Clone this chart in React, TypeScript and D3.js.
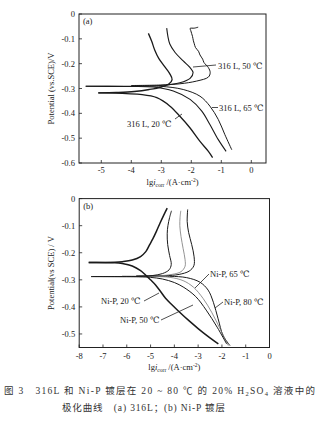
import React from "react";
import * as d3 from "d3";

type Pt = [number, number];

// ---------- Panel (a): 316L ----------
const aXTicks = [-5, -4, -3, -2, -1, 0];
const aYTicks = [0, -0.1, -0.2, -0.3, -0.4, -0.5, -0.6];

const a20Cathodic: Pt[] = [
  [-5.1, -0.318], [-4.3, -0.32], [-3.71, -0.324], [-3.15, -0.337], [-2.71, -0.371],
  [-2.38, -0.412], [-2.04, -0.459], [-1.71, -0.513], [-1.43, -0.553], [-1.29, -0.578],
];
const a20Anodic: Pt[] = [
  [-5.1, -0.318], [-4.5, -0.316], [-3.9, -0.312], [-3.4, -0.304], [-3.0, -0.294],
  [-2.75, -0.282], [-2.64, -0.264], [-2.72, -0.24], [-2.9, -0.21], [-3.08, -0.18],
  [-3.22, -0.145], [-3.32, -0.11], [-3.43, -0.078],
];
const a50Cathodic: Pt[] = [
  [-5.52, -0.291], [-4.2, -0.292], [-3.27, -0.294], [-2.6, -0.31], [-2.04, -0.344],
  [-1.65, -0.391], [-1.38, -0.445], [-1.1, -0.506], [-0.84, -0.553],
];
const a50Anodic: Pt[] = [
  [-5.52, -0.291], [-4.2, -0.291], [-3.27, -0.29], [-2.82, -0.286], [-2.38, -0.277],
  [-2.04, -0.259], [-1.94, -0.236], [-2.04, -0.216], [-2.27, -0.189], [-2.54, -0.155],
  [-2.72, -0.12], [-2.78, -0.09], [-2.82, -0.057],
];
const a65Cathodic: Pt[] = [
  [-4.0, -0.289], [-3.04, -0.291], [-2.27, -0.304], [-1.71, -0.331], [-1.38, -0.371],
  [-1.1, -0.425], [-0.88, -0.486], [-0.65, -0.547],
];
const a65Anodic: Pt[] = [
  [-4.0, -0.288], [-3.04, -0.286], [-2.38, -0.281], [-1.82, -0.27], [-1.43, -0.254],
  [-1.37, -0.236], [-1.43, -0.216], [-1.58, -0.195], [-1.62, -0.182], [-1.71, -0.165],
  [-1.76, -0.15], [-1.86, -0.135], [-1.9, -0.12], [-1.93, -0.108], [-1.96, -0.09],
  [-1.99, -0.078], [-2.02, -0.066], [-2.04, -0.058], [-1.9, -0.057], [-1.77, -0.053],
];

// ---------- Panel (b): Ni-P ----------
const bXTicks = [-8, -7, -6, -5, -4, -3, -2, -1, 0];
const bYTicks = [0, -0.1, -0.2, -0.3, -0.4, -0.5];

const b20Anodic: Pt[] = [
  [-7.6, -0.236], [-6.5, -0.235], [-6.19, -0.233], [-5.77, -0.227], [-5.42, -0.214],
  [-5.2, -0.196], [-5.05, -0.172], [-4.9, -0.148], [-4.75, -0.12], [-4.6, -0.09],
  [-4.45, -0.062], [-4.3, -0.035],
];
const b20Cathodic: Pt[] = [
  [-7.6, -0.236], [-6.5, -0.237], [-6.19, -0.24], [-5.77, -0.249], [-5.42, -0.266],
  [-5.21, -0.282], [-5.0, -0.3], [-4.79, -0.319], [-4.58, -0.343], [-4.37, -0.368],
  [-4.09, -0.393], [-3.81, -0.417], [-3.4, -0.45], [-3.0, -0.48], [-2.6, -0.508],
  [-2.15, -0.537],
];
const b50Anodic: Pt[] = [
  [-7.5, -0.288], [-6.0, -0.288], [-5.3, -0.287], [-4.9, -0.284], [-4.5, -0.277],
  [-4.22, -0.263], [-4.13, -0.243], [-4.2, -0.21], [-4.28, -0.17], [-4.3, -0.13],
  [-4.27, -0.1], [-4.2, -0.07], [-4.12, -0.045],
];
const b50Cathodic: Pt[] = [
  [-7.5, -0.288], [-5.5, -0.289], [-5.0, -0.291], [-4.5, -0.297], [-4.0, -0.31],
  [-3.6, -0.328], [-3.1, -0.362], [-2.66, -0.412], [-2.2, -0.475], [-1.8, -0.537],
];
const b65Anodic: Pt[] = [
  [-6.2, -0.287], [-5.0, -0.287], [-4.6, -0.285], [-4.1, -0.28], [-3.72, -0.27],
  [-3.55, -0.25], [-3.55, -0.225], [-3.63, -0.185], [-3.72, -0.14], [-3.77, -0.1],
  [-3.76, -0.07], [-3.73, -0.045],
];
const b65Cathodic: Pt[] = [
  [-6.2, -0.287], [-4.8, -0.288], [-4.18, -0.291], [-3.63, -0.303], [-3.2, -0.327],
  [-2.79, -0.369], [-2.43, -0.42], [-2.08, -0.481], [-1.73, -0.543],
];
const b80Anodic: Pt[] = [
  [-5.6, -0.286], [-4.4, -0.285], [-3.8, -0.28], [-3.38, -0.268], [-3.18, -0.248],
  [-3.17, -0.215], [-3.27, -0.17], [-3.4, -0.125], [-3.46, -0.085], [-3.44, -0.04],
];
const b80Cathodic: Pt[] = [
  [-5.6, -0.286], [-4.2, -0.287], [-3.48, -0.292], [-2.92, -0.309], [-2.58, -0.338],
  [-2.36, -0.383], [-2.16, -0.444], [-1.95, -0.506], [-1.66, -0.543],
];

const aLabels = ["316 L, 50 ℃", "316 L, 65 ℃", "316 L, 20 ℃"];
const bLabels = ["Ni-P, 20 ℃", "Ni-P, 50 ℃", "Ni-P, 65 ℃", "Ni-P, 80 ℃"];
const captionLine1 = "图 3　316L 和 Ni-P 镀层在 20 ~ 80 ℃ 的 20% H";
const captionLine2 = "极化曲线　(a) 316L；(b) Ni-P 镀层";

const SERIF = "'Liberation Serif', 'DejaVu Serif', serif";
const CAPFONT = "'Liberation Serif', 'Noto Sans CJK SC', serif";

function fmtY(v: number) {
  return v === 0 ? "0" : v.toFixed(1);
}

function XTitle({ x, y }: { x: number; y: number }) {
  return (
    <text x={x} y={y} fontFamily={SERIF} fontSize={8.5} textAnchor="middle" fill="#222">
      lg<tspan fontStyle="italic">i</tspan>
      <tspan fontSize={5.5} dy={2}>corr</tspan>
      <tspan dy={-2}> /(A·cm</tspan>
      <tspan fontSize={5.5} dy={-3}>-2</tspan>
      <tspan dy={3}>)</tspan>
    </text>
  );
}

function Panel({
  x0, x1, y0, y1, xDom, yDom, xTicks, yTicks, tag, curves, yTitle, titleY, tickLabelY,
}: {
  x0: number; x1: number; y0: number; y1: number;
  xDom: [number, number]; yDom: [number, number];
  xTicks: number[]; yTicks: number[]; tag: string;
  curves: { d: Pt[]; w: number; c: string }[];
  yTitle: string; titleY: number; tickLabelY: number;
}) {
  const xs = d3.scaleLinear().domain(xDom).range([x0, x1]);
  const ys = d3.scaleLinear().domain(yDom).range([y1, y0]);
  const line = d3
    .line<Pt>()
    .x((p) => xs(p[0]))
    .y((p) => ys(p[1]))
    .curve(d3.curveCatmullRom.alpha(0.5));
  const cy = (y0 + y1) / 2;
  return (
    <g>
      {curves.map((cv, i) => (
        <path key={i} d={line(cv.d) || ""} fill="none" stroke={cv.c} strokeWidth={cv.w} />
      ))}
      <rect x={x0} y={y0} width={x1 - x0} height={y1 - y0} fill="none" stroke="#222" strokeWidth={1} />
      {xTicks.map((t) => (
        <g key={"x" + t}>
          <line x1={xs(t)} x2={xs(t)} y1={y1} y2={y1 - 3} stroke="#222" strokeWidth={0.8} />
          <text x={xs(t)} y={tickLabelY} fontFamily={SERIF} fontSize={8.5} textAnchor="middle" dominantBaseline="central" fill="#222">
            {t}
          </text>
        </g>
      ))}
      {yTicks.map((t) => (
        <g key={"y" + t}>
          <line x1={x0} x2={x0 + 3} y1={ys(t)} y2={ys(t)} stroke="#222" strokeWidth={0.8} />
          <text x={x0 - 4} y={ys(t)} fontFamily={SERIF} fontSize={8.5} textAnchor="end" dominantBaseline="central" fill="#222">
            {fmtY(t)}
          </text>
        </g>
      ))}
      <text x={x0 + 4} y={y0 + 7} fontFamily={SERIF} fontSize={8.5} dominantBaseline="central" fill="#222">
        {tag}
      </text>
      <text
        transform={`translate(51,${cy}) rotate(-90)`}
        fontFamily={SERIF}
        fontSize={8.5}
        textAnchor="middle"
        dominantBaseline="central"
        fill="#222"
      >
        {yTitle}
      </text>
      <XTitle x={(x0 + x1) / 2} y={titleY} />
    </g>
  );
}

export default function App() {
  const lbl = (x: number, y: number, s: string) => (
    <text x={x} y={y} fontFamily={SERIF} fontSize={8.5} dominantBaseline="central" fill="#222">
      {s}
    </text>
  );
  const ld = (x1: number, y1: number, x2: number, y2: number) => (
    <line x1={x1} y1={y1} x2={x2} y2={y2} stroke="#222" strokeWidth={0.8} />
  );
  const K = "#1a1a1a";
  const G = "#777";
  return (
    <svg
      width={320}
      height={427}
      viewBox="0 0 320 427"
      style={{ position: "absolute", left: 0, top: 0, background: "#fff" }}
    >
      <rect width={320} height={427} fill="#fff" />
      <Panel
        x0={79} x1={266} y0={14} y1={163}
        xDom={[-5.743, 0.49]} yDom={[-0.6, 0]}
        xTicks={aXTicks} yTicks={aYTicks} tag="(a)"
        yTitle="Potential (vs.SCE)/V" titleY={185} tickLabelY={170}
        curves={[
          { d: a20Cathodic, w: 1.3, c: K },
          { d: a20Anodic, w: 1.3, c: K },
          { d: a50Cathodic, w: 1.1, c: K },
          { d: a50Anodic, w: 1.1, c: K },
          { d: a65Cathodic, w: 1.0, c: K },
          { d: a65Anodic, w: 1.0, c: K },
        ]}
      />
      {ld(193, 67, 216, 65)}
      {lbl(218, 65.5, aLabels[0])}
      {ld(212, 107.5, 218, 107.5)}
      {lbl(219, 107.5, aLabels[1])}
      {ld(175, 119, 182, 114)}
      {lbl(127, 124, aLabels[2])}

      <Panel
        x0={79.2} x1={269.5} y0={198.6} y1={347.5}
        xDom={[-8, 0]} yDom={[-0.55, 0]}
        xTicks={bXTicks} yTicks={bYTicks} tag="(b)"
        yTitle="Potential(vs SCE) / V" titleY={370} tickLabelY={356}
        curves={[
          { d: b80Cathodic, w: 1.0, c: K },
          { d: b80Anodic, w: 1.0, c: K },
          { d: b65Cathodic, w: 0.8, c: G },
          { d: b65Anodic, w: 0.8, c: G },
          { d: b50Cathodic, w: 1.0, c: K },
          { d: b50Anodic, w: 1.0, c: K },
          { d: b20Cathodic, w: 1.5, c: K },
          { d: b20Anodic, w: 1.5, c: K },
        ]}
      />
      {ld(144, 301, 159, 293)}
      {lbl(101, 301, bLabels[0])}
      {ld(161, 320, 193, 305)}
      {lbl(120, 320, bLabels[1])}
      {ld(209, 274, 195, 288)}
      {lbl(210, 274, bLabels[2])}
      {ld(223, 302, 215, 308)}
      {lbl(224, 302, bLabels[3])}

      <text x={4} y={391} fontFamily={CAPFONT} fontSize={9.5} dominantBaseline="central" fill="#333" textLength={311} lengthAdjust="spacing">
        {captionLine1}
        <tspan fontSize={6.5} dy={2}>2</tspan>
        <tspan dy={-2}>SO</tspan>
        <tspan fontSize={6.5} dy={2}>4</tspan>
        <tspan dy={-2}> 溶液中的</tspan>
      </text>
      <text x={62} y={408} fontFamily={CAPFONT} fontSize={9.5} dominantBaseline="central" fill="#333" textLength={163} lengthAdjust="spacing">
        {captionLine2}
      </text>
    </svg>
  );
}
